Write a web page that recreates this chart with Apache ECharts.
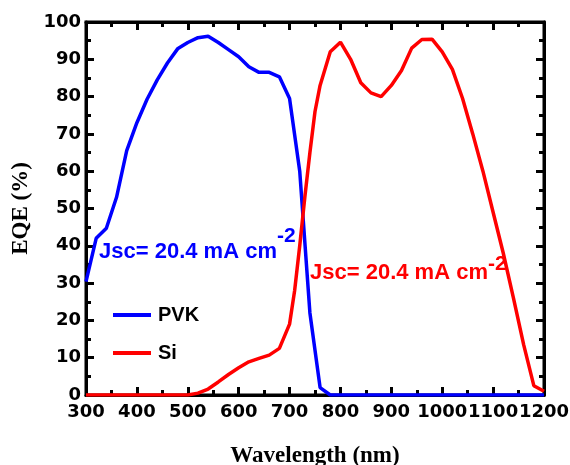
<!DOCTYPE html>
<html>
<head>
<meta charset="utf-8">
<script src="https://cdn.jsdelivr.net/npm/echarts@6/dist/echarts.min.js"></script>
<style>
  html, body { margin: 0; padding: 0; background: #fff; }
  #main { width: 570px; height: 465px; }
</style>
</head>
<body>
<div id="main"></div>
<script>
// EQE data
var pvkX = [300, 320, 340, 360, 380, 400, 420, 440, 460, 480, 500, 520, 540, 560, 580, 600, 620, 640, 660, 680, 700, 720, 740, 760, 780, 800, 900, 1000, 1100, 1200];
var pvkY = [30.4, 42, 44.7, 53, 65.5, 73, 79.3, 84.5, 89, 92.8, 94.5, 95.8, 96.2, 94.5, 92.6, 90.7, 88, 86.5, 86.5, 85.3, 79.5, 60, 22, 2, 0, 0, 0, 0, 0, 0];

var siX = [300, 400, 500, 520, 540, 560, 580, 600, 620, 640, 660, 680, 700, 710, 720, 730, 740, 750, 760, 780, 800, 820, 840, 860, 880, 900, 920, 940, 960, 980, 1000, 1020, 1040, 1060, 1080, 1100, 1120, 1140, 1160, 1180, 1200];
var siY = [0, 0, 0, 0.5, 1.6, 3.5, 5.5, 7.3, 8.9, 9.8, 10.7, 12.5, 19, 28, 40, 53, 65, 76, 83, 92, 94.6, 90, 83.7, 81, 80, 83, 87, 93, 95.3, 95.4, 92, 87.3, 79.5, 70, 60, 49, 38, 26, 13.5, 2.5, 1];

var xTicks = { min: 300, max: 1200, step: 100 };
var yTicks = { min: 0, max: 100, step: 10 };

function pairs(xs, ys) {
    var out = [];
    for (var i = 0; i < xs.length; i++) out.push([xs[i], ys[i]]);
    return out;
}

var labelFont = { fontFamily: 'DejaVu Sans', fontWeight: 'bold', fontSize: 18, color: '#000' };
var lineStyle = { color: '#000', width: 3 };

function boxAxis(pos, t, show) {
    return {
        type: 'value',
        position: pos,
        min: t.min, max: t.max, interval: t.step,
        axisLine: { show: true, onZero: false, lineStyle: lineStyle },
        axisTick: { show: true, inside: true, length: 8, lineStyle: { color: '#000', width: 3 } },
        minorTick: { show: true, splitNumber: 2, length: 5, lineStyle: { color: '#000', width: 3 } },
        splitLine: { show: false },
        axisLabel: show ? Object.assign({
            margin: 8,
            hideOverlap: false,
            formatter: function(v) { return String(v); }
        }, labelFont) : { show: false }
    };
}

var xBottom = boxAxis('bottom', xTicks, true);
xBottom.name = 'Wavelength (nm)';
xBottom.nameLocation = 'middle';
xBottom.nameGap = 50;
xBottom.nameTextStyle = { fontFamily: 'Liberation Serif', fontWeight: 'bold', fontSize: 23, color: '#000' };

var yLeft = boxAxis('left', yTicks, true);
yLeft.axisLabel.margin = 5;
yLeft.name = 'EQE (%)';
yLeft.nameLocation = 'middle';
yLeft.nameGap = 53;
yLeft.nameTextStyle = { fontFamily: 'Liberation Serif', fontWeight: 'bold', fontSize: 23, color: '#000' };

var chart = echarts.init(document.getElementById('main'));
chart.setOption({
    animation: false,
    backgroundColor: '#fff',
    grid: {
        left: 86, right: 26, top: 22, bottom: 70,
        outerBoundsMode: 'none',
        show: true, borderColor: '#000', borderWidth: 3, backgroundColor: 'transparent'
    },
    xAxis: [xBottom, boxAxis('top', xTicks, false)],
    yAxis: [yLeft, boxAxis('right', yTicks, false)],
    legend: {
        orient: 'vertical',
        left: 108, top: 300,
        itemWidth: 38, itemHeight: 4, itemGap: 18,
        icon: 'rect',
        textStyle: { fontFamily: 'Liberation Sans', fontWeight: 'bold', fontSize: 20, color: '#000', padding: [0, 0, 0, 2] },
        data: ['PVK', 'Si']
    },
    series: [
        {
            name: 'PVK', type: 'line', data: pairs(pvkX, pvkY),
            showSymbol: false, lineStyle: { color: '#0000ff', width: 3.5 }, itemStyle: { color: '#0000ff' }, z: 3
        },
        {
            name: 'Si', type: 'line', data: pairs(siX, siY),
            showSymbol: false, lineStyle: { color: '#ff0000', width: 3.5 }, itemStyle: { color: '#ff0000' }, z: 4
        }
    ],
    graphic: [
        {
            type: 'text', left: 99, top: 226, z: 10,
            style: {
                text: '{a|Jsc= 20.4 mA cm}{s|-2}',
                rich: {
                    a: { fontFamily: 'Liberation Sans', fontWeight: 'bold', fontSize: 22, fill: '#0000ff', padding: [16, 0, 0, 0] },
                    s: { fontFamily: 'Liberation Sans', fontWeight: 'bold', fontSize: 21, fill: '#0000ff', padding: [0, 0, 14, 0] }
                }
            }
        },
        {
            type: 'text', left: 310, top: 254, z: 10,
            style: {
                text: '{a|Jsc= 20.4 mA cm}{s|-2}',
                rich: {
                    a: { fontFamily: 'Liberation Sans', fontWeight: 'bold', fontSize: 22, fill: '#ff0000', padding: [8, 0, 0, 0] },
                    s: { fontFamily: 'Liberation Sans', fontWeight: 'bold', fontSize: 21, fill: '#ff0000', padding: [0, 0, 8, 0] }
                }
            }
        }
    ]
});
</script>
</body>
</html>
